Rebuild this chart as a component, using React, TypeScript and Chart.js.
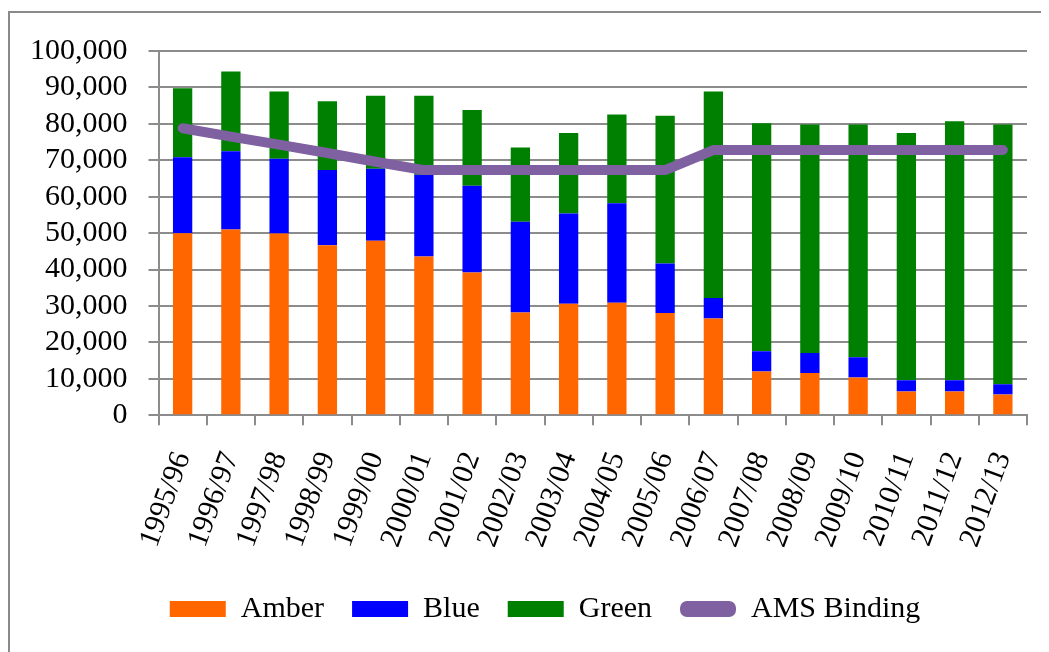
import React, { useEffect, useRef } from "react";
import { Chart, registerables } from "chart.js";

Chart.register(...registerables);

const categories = [
  "1995/96", "1996/97", "1997/98", "1998/99", "1999/00", "2000/01",
  "2001/02", "2002/03", "2003/04", "2004/05", "2005/06", "2006/07",
  "2007/08", "2008/09", "2009/10", "2010/11", "2011/12", "2012/13",
];

const amber = [50000, 51000, 49900, 46700, 47900, 43600, 39200, 28200, 30600, 30900, 28100, 26600, 12000, 11600, 10400, 6500, 6500, 5700];
const blue = [20800, 21500, 20500, 20600, 19800, 22400, 23800, 24900, 24800, 27300, 13600, 5600, 5600, 5500, 5500, 3100, 3100, 2800];
const green = [19000, 21900, 18500, 18900, 20000, 21700, 20800, 20400, 22100, 24400, 40500, 56700, 62600, 62700, 63900, 67900, 71100, 71300];
const amsBinding = [78800, 76500, 74300, 72000, 69600, 67300, 67300, 67300, 67300, 67300, 67300, 72800, 72800, 72800, 72800, 72800, 72800, 72800];

const yTicks = [0, 10000, 20000, 30000, 40000, 50000, 60000, 70000, 80000, 90000, 100000];

const COLORS = {
  amber: "#FF6600",
  blue: "#0000FF",
  green: "#008000",
  purple: "#7F60A1",
  grid: "#8C8C8C",
};

const FONT = "'Liberation Serif', 'DejaVu Serif', serif";

const legendTweak = {
  id: "legendTweak",
  afterInit(chart: any) {
    const lg = chart.legend;
    if (lg && !lg.__patched) {
      const fit = lg.fit;
      lg.fit = function () {
        fit.call(this);
        this.height = 78;
      };
      lg.__patched = true;
    }
  },
  afterLayout(chart: any) {
    const lg = chart.legend;
    if (lg) {
      lg.left += 16;
      lg.right += 16;
      lg.top -= 8;
      lg.bottom -= 8;
    }
  },
};

export default function App() {
  const canvasRef = useRef<HTMLCanvasElement | null>(null);

  useEffect(() => {
    const canvas = canvasRef.current;
    if (!canvas) return;
    const chart = new Chart(canvas, {
      type: "bar",
      data: {
        labels: categories,
        datasets: [
          { type: "bar", label: "Amber", data: amber, backgroundColor: COLORS.amber, order: 1, stack: "s" },
          { type: "bar", label: "Blue", data: blue, backgroundColor: COLORS.blue, order: 1, stack: "s" },
          { type: "bar", label: "Green", data: green, backgroundColor: COLORS.green, order: 1, stack: "s" },
          {
            type: "line",
            label: "AMS Binding",
            data: amsBinding,
            borderColor: COLORS.purple,
            backgroundColor: COLORS.purple,
            borderWidth: 10,
            borderCapStyle: "round",
            borderJoinStyle: "round",
            pointRadius: 0,
            tension: 0,
            fill: false,
            order: 0,
          } as any,
        ],
      },
      plugins: [legendTweak],
      options: {
        responsive: false,
        animation: false,
        devicePixelRatio: 1,
        layout: { padding: { left: 1, right: 0, top: 43, bottom: 0 } },
        datasets: {
          bar: { barPercentage: 0.4, categoryPercentage: 1 },
        },
        plugins: {
          tooltip: { enabled: false },
          legend: {
            position: "bottom",
            labels: {
              font: { family: FONT, size: 30 },
              color: "#000",
              boxWidth: 56,
              boxHeight: 16,
              padding: 28,
              useBorderRadius: true,
              generateLabels: (ch: any) => {
                const ds = ch.data.datasets;
                return ds.map((d: any, i: number) => ({
                  text: d.label,
                  fillStyle: d.type === "line" ? d.borderColor : d.backgroundColor,
                  strokeStyle: d.type === "line" ? d.borderColor : d.backgroundColor,
                  lineWidth: 0,
                  hidden: false,
                  datasetIndex: i,
                  borderRadius: d.type === "line" ? 7 : 0,
                  fontColor: "#000",
                }));
              },
            },
          },
        },
        scales: {
          x: {
            stacked: true,
            afterFit: (scale: any) => {
              scale.paddingRight = 22;
            },
            grid: {
              display: true,
              drawOnChartArea: false,
              drawTicks: true,
              offset: true,
              tickLength: 10,
              color: COLORS.grid,
              lineWidth: 2,
            },
            border: { display: true, color: COLORS.grid, width: 2 },
            ticks: {
              font: { family: FONT, size: 30 },
              color: "#000",
              minRotation: 70,
              maxRotation: 70,
              autoSkip: false,
              padding: 22,
            },
          },
          y: {
            stacked: true,
            min: 0,
            max: 100000,
            afterBuildTicks: (axis: any) => {
              axis.ticks = yTicks.map((v) => ({ value: v }));
            },
            grid: {
              color: COLORS.grid,
              lineWidth: 2,
              tickLength: 10,
            },
            border: { display: true, color: COLORS.grid, width: 2 },
            ticks: {
              font: { family: FONT, size: 30 },
              color: "#000",
              padding: 21,
              autoSkip: false,
              callback: (v: any) => Number(v).toLocaleString("en-US"),
            },
          },
        },
      },
    });
    return () => chart.destroy();
  }, []);

  return (
    <div style={{ position: "relative", width: 1041, height: 644, overflow: "hidden" }}>
      <div
        style={{
          position: "absolute",
          left: 0,
          top: 3,
          width: 1200,
          height: 800,
          borderLeft: "2px solid #8A8A8A",
          borderTop: "2px solid #8A8A8A",
        }}
      />
      <canvas
        ref={canvasRef}
        width={1041}
        height={644}
        style={{ position: "absolute", left: 0, top: 0, width: 1041, height: 644 }}
      />
    </div>
  );
}
